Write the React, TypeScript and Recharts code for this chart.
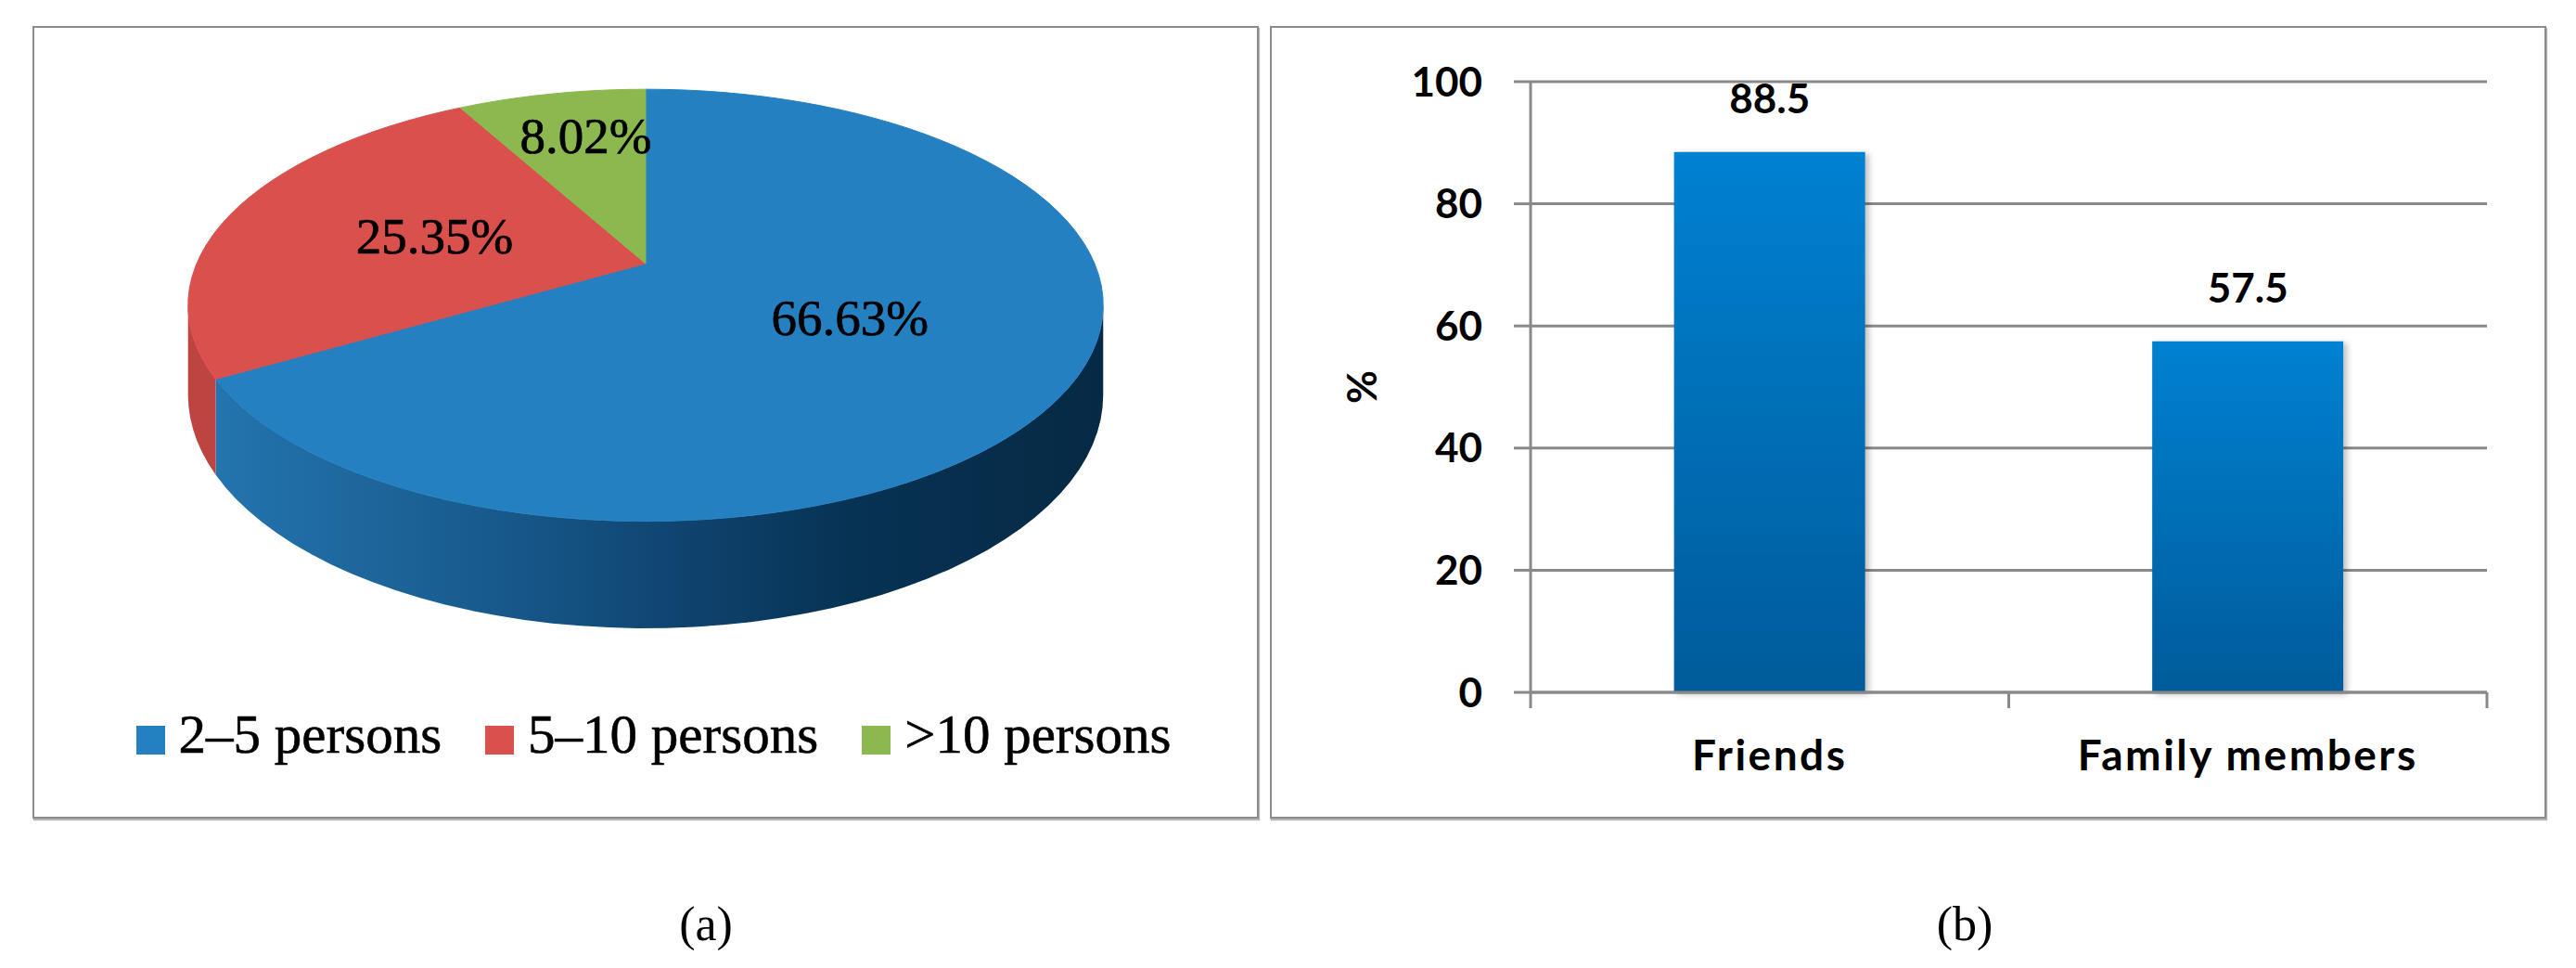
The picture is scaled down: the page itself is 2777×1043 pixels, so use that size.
import React from 'react'
import { PieChart, Pie, Cell, Legend, BarChart, Bar, XAxis, YAxis, CartesianGrid, LabelList } from 'recharts'

// (a) size of the group
const groupSizes = ['2–5 persons', '5–10 persons', '>10 persons']
const groupShares = [66.63, 25.35, 8.02]
const groupColors = ['#2580c1', '#d9504d', '#8bb84f']

// (b) company
const contactTypes = ['Friends', 'Family members']
const contactShares = [88.5, 57.5]
const percentTicks = [0, 20, 40, 60, 80, 100]

const pieData = groupSizes.map((name, i) => ({ name, value: groupShares[i] }))
const barData = contactTypes.map((name, i) => ({ name, value: contactShares[i] }))

const GRID = '#898989'
const SANS = 'Lato, "Open Sans", sans-serif'
const SERIF = '"Liberation Serif", "Times New Roman", serif'

// fake 3D for the pie: flattening, perspective, wall height
const TILT = 0.463
const PERSP = 0.193
const DEPTH = 93
const STEPS = 120
const VISIBLE = (Math.asin(PERSP) * 180) / Math.PI

const project = (cx: number, cy: number, r: number, deg: number, h = 0, frac = 1) => {
  const a = (deg * Math.PI) / 180
  const u = Math.cos(a) * frac
  const v = -Math.sin(a) * frac
  const f = 1 / (1 - PERSP * v)
  return [cx + r * u * f, cy + (r * TILT * v + h) * f]
}

const arc = (cx: number, cy: number, r: number, from: number, to: number, h: number) => {
  const n = Math.max(2, Math.ceil((Math.abs(to - from) / 360) * STEPS))
  const pts: number[][] = []
  for (let i = 0; i <= n; i++) pts.push(project(cx, cy, r, from + ((to - from) * i) / n, h))
  return pts
}

const toPath = (pts: number[][]) =>
  'M' + pts.map((p) => `${p[0].toFixed(2)},${p[1].toFixed(2)}`).join('L') + 'Z'

const wallFills = ['url(#wallBlue)', '#bd4441', '#6c9a3c']

function renderWall(props: any) {
  const { cx, cy, outerRadius, startAngle, endAngle, index } = props
  const lo = Math.min(startAngle, endAngle)
  const hi = Math.max(startAngle, endAngle)
  const parts: React.ReactNode[] = []
  for (let k = -2; k <= 1; k++) {
    const s = Math.max(lo, 180 + VISIBLE + 360 * k)
    const e = Math.min(hi, 360 - VISIBLE + 360 * k)
    if (e > s) {
      const top = arc(cx, cy, outerRadius, s, e, 0)
      const bottom = arc(cx, cy, outerRadius, e, s, DEPTH)
      parts.push(<path key={k} d={toPath([...top, ...bottom])} fill={wallFills[index]} />)
    }
  }
  return <g>{parts}</g>
}

function renderTop(props: any) {
  const { cx, cy, outerRadius, startAngle, endAngle, index } = props
  const pts = [[cx, cy], ...arc(cx, cy, outerRadius, startAngle, endAngle, 0)]
  const c = groupColors[index]
  return <path d={toPath(pts)} fill={c} stroke={c} strokeWidth={1} />
}

function renderShare(props: any) {
  const { cx, cy, outerRadius, midAngle, value, percent } = props
  // thin slices get their label pushed further out, like Excel does
  const frac = percent < 0.1 ? 0.72 : 0.5
  const [x, y] = project(cx, cy, outerRadius, midAngle, 0, frac)
  return (
    <text x={x + (percent < 0.1 ? 12 : 0)} y={y} textAnchor="middle" dominantBaseline="central" fontFamily={SERIF} fontSize={55}
      fill="#000" stroke="#000" strokeWidth={0.7}>
      {`${Number(value).toFixed(2)}%`}
    </text>
  )
}

const TICK_SIZE = 17
const TICK_MARGIN = 34

function CategoryTick(props: any) {
  const { x, y, payload, index } = props
  const half = payload?.offset ?? 0
  const top = y - TICK_MARGIN - TICK_SIZE
  const last = (index ?? payload?.index) === contactTypes.length - 1
  return (
    <g>
      <line x1={x - half} x2={x - half} y1={top} y2={top + TICK_SIZE} stroke={GRID} strokeWidth={3} />
      {last && <line x1={x + half} x2={x + half} y1={top} y2={top + TICK_SIZE} stroke={GRID} strokeWidth={3} />}
      <text x={x} y={y} dy="0.71em" textAnchor="middle" fontFamily={SANS} fontWeight={700} fontSize={46}
        letterSpacing={2.5} fill="#000">
        {payload.value}
      </text>
    </g>
  )
}

function PercentLabel(props: any) {
  const { x, y, height } = props.viewBox
  const tx = x + 96
  const ty = y + height / 2
  return (
    <text x={tx} y={ty} transform={`rotate(-90 ${tx} ${ty})`} textAnchor="middle" dominantBaseline="central"
      fontFamily={SANS} fontWeight={700} fontSize={44} fill="#000">
      %
    </text>
  )
}

const boxStyle: React.CSSProperties = {
  position: 'absolute',
  top: 28,
  height: 854,
  boxSizing: 'border-box',
  border: '2px solid #8c8c8c',
  boxShadow: '1px 2px 1px #b4b4b4',
}

export default function App() {
  return (
    <div style={{ position: 'absolute', left: 0, top: 0, width: 2777, height: 1043, background: '#fff', overflow: 'hidden' }}>
      <div style={{ ...boxStyle, left: 35, width: 1322 }} />
      <div style={{ ...boxStyle, left: 1369, width: 1376 }} />

      {/* (a) pie */}
      <div style={{ position: 'absolute', left: 37, top: 30 }}>
        <PieChart width={1318} height={850} margin={{ top: 0, right: 0, bottom: 0, left: 0 }}>
          <defs>
            <linearGradient id="wallBlue" x1="0" y1="0" x2="1" y2="0">
              <stop offset="0%" stopColor="#2474ae" />
              <stop offset="30%" stopColor="#185b8e" />
              <stop offset="52%" stopColor="#0f4470" />
              <stop offset="72%" stopColor="#073253" />
              <stop offset="100%" stopColor="#062a45" />
            </linearGradient>
          </defs>
          <Pie data={pieData} dataKey="value" nameKey="name" cx={659} cy={254} outerRadius={484}
            startAngle={90} endAngle={-270} stroke="none" label={renderWall} labelLine={false}
            legendType="square" isAnimationActive={false}>
            {pieData.map((d, i) => (
              <Cell key={d.name} fill={groupColors[i]} fillOpacity={0} />
            ))}
          </Pie>
          <Pie data={pieData} dataKey="value" nameKey="name" cx={659} cy={254} outerRadius={484}
            startAngle={90} endAngle={-270} fill="none" stroke="none" label={renderTop} labelLine={false}
            legendType="none" isAnimationActive={false} />
          <Pie data={pieData} dataKey="value" nameKey="name" cx={659} cy={254} outerRadius={484}
            startAngle={90} endAngle={-270} fill="none" stroke="none" label={renderShare} labelLine={false}
            legendType="none" isAnimationActive={false} />
          <Legend verticalAlign="bottom" align="center" iconType="square" iconSize={31}
            wrapperStyle={{ top: 727, left: 32, fontFamily: SERIF, fontSize: 59, lineHeight: 'normal' }}
            formatter={(v: any, _e: any, i: number) => (
              <span style={{ color: '#000', WebkitTextStroke: '0.6px #000', marginLeft: 11,
                marginRight: i === groupSizes.length - 1 ? 0 : 37 }}>{v}</span>
            )} />
        </PieChart>
      </div>

      {/* (b) bars */}
      <div style={{ position: 'absolute', left: 1371, top: 30 }}>
        <BarChart width={1372} height={850} data={barData} margin={{ top: 58, right: 62, bottom: 34, left: 0 }}
          barCategoryGap="30%">
          <defs>
            <linearGradient id="barFill" x1="0" y1="0" x2="0" y2="1">
              <stop offset="0%" stopColor="#0281d2" />
              <stop offset="100%" stopColor="#015b9a" />
            </linearGradient>
            <filter id="barShadow" x="-20%" y="-10%" width="140%" height="120%">
              <feDropShadow dx="4" dy="2" stdDeviation="3" floodColor="#000" floodOpacity="0.25" />
            </filter>
          </defs>
          <CartesianGrid vertical={false} stroke={GRID} strokeWidth={3} />
          <XAxis dataKey="name" height={100} interval={0} tickLine={false} tickSize={TICK_SIZE}
            tickMargin={TICK_MARGIN} axisLine={{ stroke: GRID, strokeWidth: 3 }} tick={<CategoryTick />} />
          <YAxis domain={[0, 100]} ticks={percentTicks} width={279} tickSize={18} tickMargin={34}
            axisLine={{ stroke: GRID, strokeWidth: 3 }} tickLine={{ stroke: GRID, strokeWidth: 3 }}
            tick={{ fill: '#000', fontFamily: SANS, fontWeight: 700, fontSize: 44 }}
            label={<PercentLabel />} />
          <Bar dataKey="value" fill="url(#barFill)" filter="url(#barShadow)" isAnimationActive={false}>
            <LabelList dataKey="value" position="top" offset={42} fill="#000" fontFamily={SANS}
              fontWeight={700} fontSize={44} formatter={(v: any) => Number(v).toFixed(1)} />
          </Bar>
        </BarChart>
      </div>

      <div style={{ position: 'absolute', left: 661, width: 200, top: 970, textAlign: 'center', fontFamily: SERIF, fontSize: 52, lineHeight: 1 }}>
        (a)
      </div>
      <div style={{ position: 'absolute', left: 2018, width: 200, top: 970, textAlign: 'center', fontFamily: SERIF, fontSize: 52, lineHeight: 1 }}>
        (b)
      </div>
    </div>
  )
}
